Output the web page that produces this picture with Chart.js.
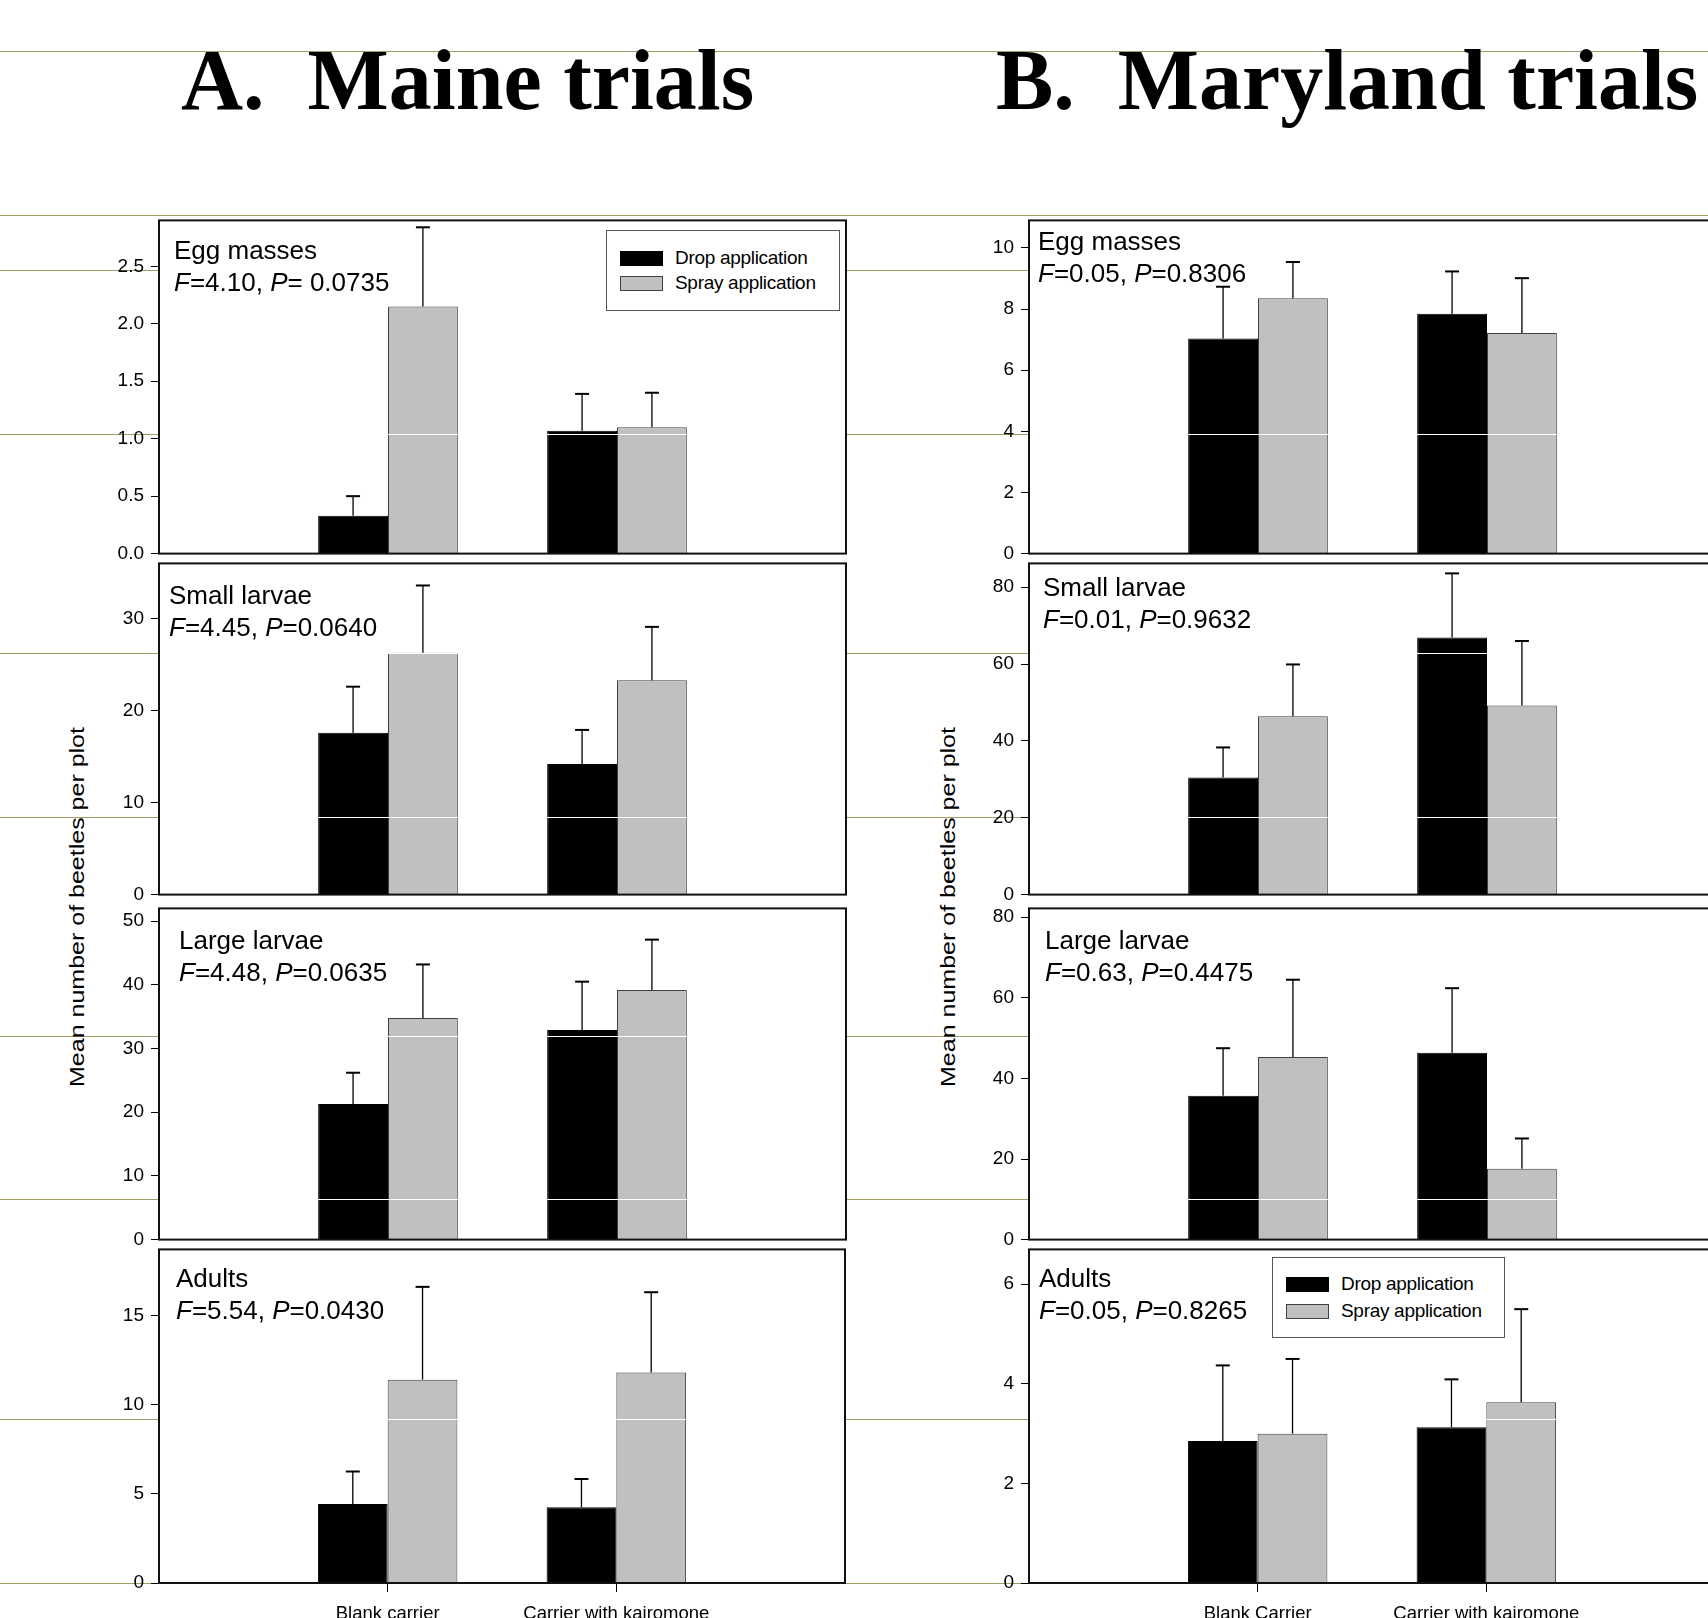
<!DOCTYPE html>
<html>
<head>
<meta charset="utf-8">
<script src="https://cdn.jsdelivr.net/npm/chart.js@4.4.0/dist/chart.umd.min.js"></script>
<style>
  html, body { margin: 0; padding: 0; background: #fff; }
  body { width: 1708px; height: 1618px; position: relative; overflow: hidden;
         font-family: "Liberation Sans", Arial, sans-serif; color: #000; }
  .rule { position: absolute; left: 0; width: 1708px; height: 1px; background: #a09c64; z-index: 0; }
  .title { position: absolute; z-index: 3; white-space: nowrap; font-family: "Liberation Serif", "Times New Roman", serif;
           font-weight: bold; font-size: 86px; line-height: 86px; }
  .note { position: absolute; z-index: 3; white-space: nowrap; font-size: 26px; line-height: 32px; }
  .ytitle { position: absolute; z-index: 3; white-space: nowrap; font-size: 20px; line-height: 24px;
            transform: translate(-50%, -50%) rotate(-90deg) scaleX(1.25); }
  .legend { position: absolute; z-index: 3; background: #fff; border: 1px solid #555; box-sizing: border-box; }
  .legend .sw { position: absolute; width: 43px; height: 15px; box-sizing: border-box; }
  .legend .lt { position: absolute; white-space: nowrap; font-size: 19px; line-height: 22px; letter-spacing: -0.3px; }
</style>
</head>
<body>
<script>
// ---- data ----
const seriesNames = ['Drop application', 'Spray application'];
const stageNames = ['Egg masses', 'Small larvae', 'Large larvae', 'Adults'];
const categoriesMaine = ['Blank carrier', 'Carrier with kairomone'];
const categoriesMaryland = ['Blank Carrier', 'Carrier with kairomone'];

// Maine: means and upper SE per stage [blank, kairomone]
const maineEggDrop = [0.33, 1.07],   maineEggDropSE = [0.17, 0.32];
const maineEggSpray = [2.15, 1.10],  maineEggSpraySE = [0.69, 0.30];
const maineSmallDrop = [17.6, 14.2], maineSmallDropSE = [5.0, 3.7];
const maineSmallSpray = [26.3, 23.3], maineSmallSpraySE = [7.3, 5.8];
const maineLargeDrop = [21.3, 32.9], maineLargeDropSE = [4.9, 7.6];
const maineLargeSpray = [34.8, 39.2], maineLargeSpraySE = [8.4, 7.9];
const maineAdultDrop = [4.43, 4.25], maineAdultDropSE = [1.82, 1.58];
const maineAdultSpray = [11.4, 11.8], maineAdultSpraySE = [5.2, 4.5];

// Maryland
const mdEggDrop = [7.04, 7.85],    mdEggDropSE = [1.69, 1.38];
const mdEggSpray = [8.35, 7.22],   mdEggSpraySE = [1.19, 1.79];
const mdSmallDrop = [30.5, 66.9],  mdSmallDropSE = [7.8, 16.7];
const mdSmallSpray = [46.4, 49.2], mdSmallSpraySE = [13.5, 16.8];
const mdLargeDrop = [35.7, 46.4],  mdLargeDropSE = [11.8, 16.0];
const mdLargeSpray = [45.3, 17.6], mdLargeSpraySE = [19.2, 7.5];
const mdAdultDrop = [2.85, 3.13],  mdAdultDropSE = [1.52, 0.96];
const mdAdultSpray = [3.00, 3.63], mdAdultSpraySE = [1.50, 1.87];

// ANOVA results
const maineF = ['4.10', '4.45', '4.48', '5.54'];
const maineP = [' 0.0735', '0.0640', '0.0635', '0.0430'];
const mdF = ['0.05', '0.01', '0.63', '0.05'];
const mdP = ['0.8306', '0.9632', '0.4475', '0.8265'];

// axes
const maineMax = [2.9, 36, 52, 18.7];
const maineTicks = [[0, 0.5, 1, 1.5, 2, 2.5], [0, 10, 20, 30], [0, 10, 20, 30, 40, 50], [0, 5, 10, 15]];
const maineDecimals = [1, 0, 0, 0];
const mdMax = [10.9, 86.2, 82.2, 6.7];
const mdTicks = [[0, 2, 4, 6, 8, 10], [0, 20, 40, 60, 80], [0, 20, 40, 60, 80], [0, 2, 4, 6]];
const mdDecimals = [0, 0, 0, 0];

// ---- layout ----
const PANEL_W = 687, YW = 60, PAD = 16, XH = 40, RPAD = 10;
const rows = [
  { top: 218, bottom: 556 },
  { top: 561, bottom: 897 },
  { top: 906, bottom: 1242 },
  { top: 1247, bottom: 1583 }
];
const ruleYs = [51, 215, 270, 434, 653, 817, 1036, 1199, 1419, 1583];

Chart.defaults.font.family = '"Liberation Sans", Arial, sans-serif';
Chart.defaults.color = '#000';

function addEl(cls, css, html) {
  const d = document.createElement('div');
  d.className = cls;
  d.style.cssText = css;
  if (html !== undefined) d.innerHTML = html;
  document.body.appendChild(d);
  return d;
}

ruleYs.forEach(y => addEl('rule', `top:${y}px`));
addEl('title', 'left:181px;top:37px', 'A.&nbsp; Maine trials');
addEl('title', 'left:996px;top:37px', 'B.&nbsp; Maryland trials');
addEl('ytitle', 'left:77px;top:907px', 'Mean number of beetles per plot');
addEl('ytitle', 'left:948px;top:907px', 'Mean number of beetles per plot');

// white fill, slide rules seen through bars, error bars, frame
const panelDeco = {
  id: 'panelDeco',
  beforeDraw(chart) {
    const { ctx, chartArea: a } = chart;
    ctx.save();
    ctx.fillStyle = '#fff';
    ctx.fillRect(a.left, a.top, a.right - a.left, a.bottom - a.top);
    ctx.restore();
  },
  afterDatasetsDraw(chart, args, opts) {
    const { ctx, chartArea: a } = chart;
    const ys = chart.scales.y;
    ctx.save();
    ctx.strokeStyle = '#fff';
    ctx.lineWidth = 1;
    opts.rules.forEach(py => {
      const cy = py - opts.offsetTop + 0.5;
      if (cy > a.top + 2 && cy < a.bottom - 2) {
        ctx.beginPath();
        ctx.moveTo(a.left + 1, cy);
        ctx.lineTo(a.right - 1, cy);
        ctx.stroke();
      }
    });
    ctx.strokeStyle = '#000';
    chart.data.datasets.forEach((ds, di) => {
      chart.getDatasetMeta(di).data.forEach((bar, i) => {
        const v = ds.data[i], e = ds.errors[i];
        if (v == null || e == null) return;
        const yTop = ys.getPixelForValue(v + e);
        ctx.lineWidth = 1.3;
        ctx.beginPath();
        ctx.moveTo(bar.x, bar.y);
        ctx.lineTo(bar.x, yTop);
        ctx.stroke();
        ctx.lineWidth = 2;
        ctx.beginPath();
        ctx.moveTo(bar.x - 7, yTop);
        ctx.lineTo(bar.x + 7, yTop);
        ctx.stroke();
      });
    });
    ctx.restore();
  },
  afterDraw(chart) {
    const { ctx, chartArea: a } = chart;
    ctx.save();
    ctx.strokeStyle = '#111';
    ctx.lineWidth = 2;
    ctx.strokeRect(a.left, a.top, a.right - a.left, a.bottom - a.top);
    ctx.restore();
  }
};

const pad2 = arr => [null, ...arr, null];

function makePanel(colLeft, r, cats, drop, dropSE, spray, spraySE, maxV, ticks, decimals) {
  const isBottom = r === 3;
  const row = rows[r];
  const left = colLeft - YW, top = row.top - PAD;
  const w = YW + PANEL_W + RPAD;
  const h = PAD + (row.bottom - row.top) + (isBottom ? XH : PAD);
  const cv = document.createElement('canvas');
  cv.width = w; cv.height = h;
  cv.style.cssText = `position:absolute;left:${left}px;top:${top}px;width:${w}px;height:${h}px;z-index:1`;
  document.body.appendChild(cv);

  new Chart(cv, {
    type: 'bar',
    data: {
      labels: ['', ...cats, ''],
      datasets: [
        { label: seriesNames[0], data: pad2(drop), errors: pad2(dropSE),
          backgroundColor: '#000', borderColor: '#000', borderWidth: 1 },
        { label: seriesNames[1], data: pad2(spray), errors: pad2(spraySE),
          backgroundColor: '#c0c0c0', borderColor: '#404040', borderWidth: 1 }
      ]
    },
    options: {
      responsive: false,
      animation: false,
      events: [],
      layout: { padding: { top: PAD, right: RPAD, bottom: isBottom ? 0 : PAD, left: 0 } },
      datasets: { bar: { categoryPercentage: 0.61, barPercentage: 1 } },
      plugins: {
        legend: { display: false },
        tooltip: { enabled: false },
        panelDeco: { rules: ruleYs, offsetTop: top }
      },
      scales: {
        x: {
          offset: false,
          border: { display: false },
          grid: {
            offset: false, display: isBottom, drawOnChartArea: false, drawTicks: true,
            tickLength: 9, lineWidth: 1,
            tickColor: c => (c.index === 1 || c.index === 2) ? '#000' : 'rgba(0,0,0,0)'
          },
          ticks: { display: isBottom, autoSkip: false, maxRotation: 0, padding: 11,
                   color: '#000', font: { size: 18.5 } },
          afterFit: s => { s.height = isBottom ? XH : 0; }
        },
        y: {
          min: 0, max: maxV,
          border: { display: false },
          grid: { drawOnChartArea: false, tickLength: 8, tickColor: '#000', lineWidth: 1 },
          ticks: { padding: 7, color: '#000', font: { size: 19 },
                   callback: v => Number(v).toFixed(decimals) },
          afterBuildTicks: s => { s.ticks = ticks.map(v => ({ value: v })); },
          afterFit: s => { s.width = YW; }
        }
      }
    },
    plugins: [panelDeco]
  });
}

const maineData = [
  [maineEggDrop, maineEggDropSE, maineEggSpray, maineEggSpraySE],
  [maineSmallDrop, maineSmallDropSE, maineSmallSpray, maineSmallSpraySE],
  [maineLargeDrop, maineLargeDropSE, maineLargeSpray, maineLargeSpraySE],
  [maineAdultDrop, maineAdultDropSE, maineAdultSpray, maineAdultSpraySE]
];
const mdData = [
  [mdEggDrop, mdEggDropSE, mdEggSpray, mdEggSpraySE],
  [mdSmallDrop, mdSmallDropSE, mdSmallSpray, mdSmallSpraySE],
  [mdLargeDrop, mdLargeDropSE, mdLargeSpray, mdLargeSpraySE],
  [mdAdultDrop, mdAdultDropSE, mdAdultSpray, mdAdultSpraySE]
];

const maineNotePos = [[174, 234], [169, 579], [179, 924], [176, 1262]];
const mdNotePos = [[1038, 225], [1043, 571], [1045, 924], [1039, 1262]];

for (let r = 0; r < 4; r++) {
  const a = maineData[r], b = mdData[r];
  makePanel(159, r, categoriesMaine, a[0], a[1], a[2], a[3], maineMax[r], maineTicks[r], maineDecimals[r]);
  makePanel(1029, r, categoriesMaryland, b[0], b[1], b[2], b[3], mdMax[r], mdTicks[r], mdDecimals[r]);
  addEl('note', `left:${maineNotePos[r][0]}px;top:${maineNotePos[r][1]}px`,
        `${stageNames[r]}<br><i>F</i>=${maineF[r]}, <i>P</i>=${maineP[r]}`);
  addEl('note', `left:${mdNotePos[r][0]}px;top:${mdNotePos[r][1]}px`,
        `${stageNames[r]}<br><i>F</i>=${mdF[r]}, <i>P</i>=${mdP[r]}`);
}

function makeLegend(x, y, w, h, swTops, textTops) {
  const box = addEl('legend', `left:${x}px;top:${y}px;width:${w}px;height:${h}px`);
  const fills = ['background:#000', 'background:#c0c0c0;border:1px solid #404040'];
  seriesNames.forEach((name, i) => {
    const sw = document.createElement('div');
    sw.className = 'sw';
    sw.style.cssText = `left:13px;top:${swTops[i]}px;${fills[i]}`;
    box.appendChild(sw);
    const t = document.createElement('div');
    t.className = 'lt';
    t.style.cssText = `left:68px;top:${textTops[i]}px`;
    t.textContent = name;
    box.appendChild(t);
  });
}
makeLegend(606, 230, 234, 81, [20, 45], [16, 41]);
makeLegend(1272, 1257, 233, 81, [19, 46], [15, 42]);
</script>
</body>
</html>
